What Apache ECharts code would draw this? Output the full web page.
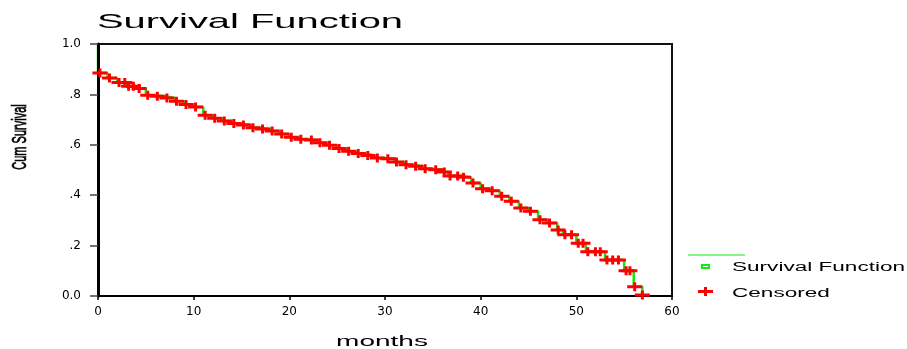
<!DOCTYPE html>
<html>
<head>
<meta charset="utf-8">
<script src="https://cdn.jsdelivr.net/npm/echarts@6/dist/echarts.min.js"></script>
<style>
  html, body { margin: 0; padding: 0; background: #fff; }
  #chart { width: 907px; height: 349px; }
</style>
</head>
<body>
<div id="chart"></div>
<script>
// texts
const chartTitle = 'Survival Function';
const xAxisName = 'months';
const yAxisName = 'Cum Survival';
const seriesNames = ['Survival Function', 'Censored'];
const yTickLabels = ['0.0', '.2', '.4', '.6', '.8', '1.0'];

// Kaplan-Meier step curve: month where the step starts, survival from there on
const stepMonths = [0, 0, 1, 2, 3, 4, 5, 6, 7, 8, 9, 10, 11, 12, 13, 14, 15, 16, 17, 18, 19,
  20, 21, 22, 23, 24, 25, 26, 27, 28, 29, 30, 31, 32, 33, 34, 35, 36, 36.6, 38, 39,
  40, 41, 42, 43, 44, 45, 46, 47, 48, 48.6, 50, 51, 53, 55, 56, 56.9];
const stepSurvival = [1.0, 0.885, 0.865, 0.847, 0.832, 0.823, 0.797, 0.793, 0.786, 0.773, 0.760,
  0.750, 0.717, 0.705, 0.694, 0.685, 0.679, 0.668, 0.663, 0.655, 0.643,
  0.630, 0.622, 0.619, 0.608, 0.598, 0.585, 0.574, 0.565, 0.558, 0.548,
  0.545, 0.532, 0.521, 0.515, 0.505, 0.501, 0.492, 0.476, 0.471, 0.448,
  0.426, 0.418, 0.396, 0.376, 0.349, 0.336, 0.303, 0.290, 0.262, 0.243,
  0.209, 0.176, 0.143, 0.100, 0.037, 0.004];

// censored cases
const censorMonths = [0.2, 1.2, 2.2, 2.8, 3.2, 3.7, 4.3, 5.2, 6.2, 7.2, 8.2, 9.2, 10.2, 11.2,
  12.2, 13.2, 14.2, 15.2, 16.2, 17.2, 18.2, 19.2, 20.2, 21.2, 22.3, 23.2, 24.2, 25.2,
  26.2, 27.2, 28.2, 29.2, 30.3, 31.2, 32.2, 33.2, 34.2, 35.3, 36.2, 36.8, 37.6, 38.2,
  39.2, 40.2, 41.2, 42.2, 43.2, 44.2, 45.2, 46.2, 47.2, 48.1, 48.8, 49.5, 50.2, 50.7,
  51.2, 52.0, 52.5, 53.2, 53.8, 54.4, 55.2, 55.6, 56.1, 56.9];
const censorSurvival = [0.885, 0.865, 0.847, 0.847, 0.832, 0.832, 0.823, 0.797, 0.793, 0.786, 0.773, 0.760, 0.750, 0.717,
  0.705, 0.694, 0.685, 0.679, 0.668, 0.663, 0.655, 0.643, 0.630, 0.622, 0.619, 0.608, 0.598, 0.585,
  0.574, 0.565, 0.558, 0.548, 0.545, 0.532, 0.521, 0.515, 0.505, 0.501, 0.492, 0.476, 0.476, 0.471,
  0.448, 0.426, 0.418, 0.396, 0.376, 0.349, 0.336, 0.303, 0.290, 0.262, 0.243, 0.243, 0.209, 0.209,
  0.176, 0.176, 0.176, 0.143, 0.143, 0.143, 0.100, 0.100, 0.037, 0.004];

const GREEN = '#12e812';
const RED = '#ff0000';
const FONT = 'Liberation Sans, Arial, sans-serif';
const plusPath = 'path://M0,3H15V6H0Z M6,0H9V9H6Z';

const chart = echarts.init(document.getElementById('chart'));

const option = {
  backgroundColor: '#fff',
  animation: false,
  grid: {
    left: 98, right: 235, top: 44, bottom: 53,
    show: true, borderColor: '#111', borderWidth: 2
  },
  xAxis: {
    type: 'value', min: 0, max: 60, interval: 10,
    axisLine: { lineStyle: { color: '#000', width: 2 } },
    axisTick: { show: true, length: 4, lineStyle: { color: '#000', width: 1.5 } },
    axisLabel: { color: '#000', fontFamily: 'DejaVu Sans', fontSize: 12, margin: 10 },
    splitLine: { show: false }
  },
  yAxis: {
    type: 'value', min: 0, max: 1, interval: 0.2,
    axisLine: { show: true, lineStyle: { color: '#000', width: 3 } },
    axisTick: { show: true, length: 8, lineStyle: { color: '#444', width: 1.5 } },
    axisLabel: {
      color: '#000', fontFamily: 'DejaVu Sans', fontSize: 12, margin: 17,
      formatter: function (v) { return yTickLabels[Math.round(v / 0.2)]; }
    },
    splitLine: { show: false },
    z: 3
  },
  series: [
    {
      name: seriesNames[0],
      type: 'line',
      step: 'end',
      showSymbol: false,
      data: stepMonths.map((m, i) => [m, stepSurvival[i]]),
      lineStyle: { color: GREEN, width: 2.5 },
      z: 2
    },
    {
      name: seriesNames[1],
      type: 'scatter',
      symbol: plusPath,
      symbolSize: [15, 9],
      data: censorMonths.map((m, i) => [m, censorSurvival[i]]),
      itemStyle: { color: RED, opacity: 1 },
      z: 4
    }
  ],
  graphic: [
    {
      type: 'text', x: 97, y: 22, scaleX: 1.9,
      style: { text: chartTitle, font: '21px ' + FONT, fill: '#000', align: 'left', verticalAlign: 'middle' }
    },
    {
      type: 'text', x: 382, y: 342, scaleX: 2.0,
      style: { text: xAxisName, font: '14px ' + FONT, fill: '#000', align: 'center', verticalAlign: 'middle' }
    },
    {
      type: 'text', x: 20, y: 137, rotation: Math.PI / 2, scaleY: 1.9,
      style: { text: yAxisName, font: '11px ' + FONT, fill: '#000', stroke: '#000', lineWidth: 0.4, align: 'center', verticalAlign: 'middle' }
    },
    // legend
    {
      type: 'line', shape: { x1: 688, y1: 255, x2: 745, y2: 255 },
      style: { stroke: GREEN, lineWidth: 1.2 }
    },
    {
      type: 'rect', shape: { x: 702, y: 265, width: 7, height: 3 },
      style: { fill: '#fff', stroke: GREEN, lineWidth: 2 }
    },
    {
      type: 'text', x: 732, y: 268, scaleX: 1.88,
      style: { text: seriesNames[0], font: '12px ' + FONT, fill: '#000', align: 'left', verticalAlign: 'middle' }
    },
    {
      type: 'group', x: 698, y: 287,
      children: [
        { type: 'rect', shape: { x: 0, y: 3, width: 15, height: 3 }, style: { fill: RED } },
        { type: 'rect', shape: { x: 6, y: 0, width: 3, height: 9 }, style: { fill: RED } }
      ]
    },
    {
      type: 'text', x: 732, y: 294, scaleX: 1.88,
      style: { text: seriesNames[1], font: '12px ' + FONT, fill: '#000', align: 'left', verticalAlign: 'middle' }
    }
  ]
};

chart.setOption(option);
</script>
</body>
</html>
